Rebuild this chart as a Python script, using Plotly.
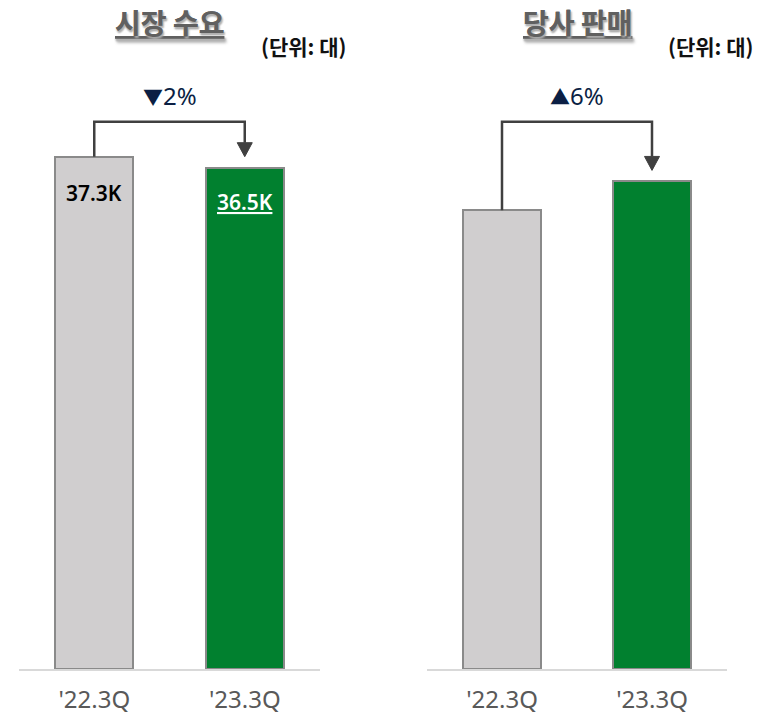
import plotly.graph_objects as go

# Quarter labels and unit volumes (thousands of units)
quarters = ["'22.3Q", "'23.3Q"]
market_demand = [37.3, 36.5]
company_sales = [33.4, 35.5]
market_labels = ["37.3K", "36.5K"]

panel_titles = ["시장 수요", "당사 판매"]
unit_text = "(단위: 대)"

bar_fill = ["#d0cecf", "#01802f"]
bar_edge = "#8a8a8a"
bracket_color = "#404040"
W, H = 773, 715
Y_MAX = 48.7
BASE_PX = 671

fig = go.Figure()

panels = [
    dict(vals=market_demand, xa="x", ya="y", dom=[19 / W, 320 / W], unit_x=1.39),
    dict(vals=company_sales, xa="x2", ya="y2", dom=[427 / W, 727 / W], unit_x=1.39),
]

for i, p in enumerate(panels):
    fig.add_trace(go.Bar(
        x=[0, 1], y=p["vals"], width=0.52,
        marker=dict(color=bar_fill, line=dict(color=bar_edge, width=2)),
        xaxis=p["xa"], yaxis=p["ya"], hoverinfo="skip", showlegend=False,
    ))

layout_axes = {}
for i, p in enumerate(panels):
    sfx = "" if i == 0 else "2"
    layout_axes["xaxis" + sfx] = dict(
        domain=p["dom"], range=[-0.5, 1.5], tickvals=[0, 1], ticktext=quarters,
        showline=True, linecolor="#d9d9d9", linewidth=2, showgrid=False,
        zeroline=False, ticks="", ticklabelstandoff=8,
        tickfont=dict(family="Noto Sans", size=24, color="#595959"),
        anchor="y" + sfx, fixedrange=True,
    )
    layout_axes["yaxis" + sfx] = dict(
        domain=[1 - BASE_PX / H, 1], range=[0, Y_MAX], visible=False,
        anchor="x" + sfx, fixedrange=True,
    )

fig.update_layout(
    width=W, height=H, margin=dict(l=0, r=0, t=0, b=0),
    paper_bgcolor="white", plot_bgcolor="white", bargap=0,
    **layout_axes,
)

px_per_unit = BASE_PX / Y_MAX
bracket_top = (BASE_PX - 122) / px_per_unit
annotations = []
shapes = []

for i, p in enumerate(panels):
    sfx = "" if i == 0 else "2"
    v0, v1 = p["vals"]
    tip = v1 + 11 / px_per_unit
    head = tip + 14 / px_per_unit
    hw = 0.05
    # elbow connector between the two bars
    shapes.append(dict(
        type="path", xref="x" + sfx, yref="y" + sfx,
        path=f"M 0 {v0} L 0 {bracket_top} L 1 {bracket_top} L 1 {head}",
        line=dict(color=bracket_color, width=2.5),
    ))
    shapes.append(dict(
        type="path", xref="x" + sfx, yref="y" + sfx,
        path=f"M {1 - hw} {head} L {1 + hw} {head} L 1 {tip} Z",
        fillcolor=bracket_color, line=dict(color=bracket_color, width=1),
    ))
    change = (v1 / v0 - 1) * 100
    sym = "▲" if change >= 0 else "▼"
    annotations.append(dict(
        xref="x" + sfx, yref="paper", x=0.5, y=1 - 96 / H,
        xanchor="center", yanchor="middle",
        text=f"<span style='font-family:Noto Sans CJK KR;font-size:20px'>{sym}</span>{abs(change):.0f}%",
        showarrow=False,
        font=dict(family="Noto Sans", size=24, color="#0b1f44"),
    ))
    # panel title and unit note
    annotations.append(dict(
        xref="x" + sfx, yref="paper", x=0.5, y=1 - 22 / H,
        xanchor="center", yanchor="middle",
        text=f"<u><b>{panel_titles[i]}</b></u>", showarrow=False,
        font=dict(family="Noto Sans CJK KR", size=28, color="#606060",
                  shadow="1px 2px 2px #b0b0b0"),
    ))
    annotations.append(dict(
        xref="x" + sfx, yref="paper", x=p["unit_x"], y=1 - 46 / H,
        xanchor="center", yanchor="middle",
        text=f"<b>{unit_text}</b>", showarrow=False,
        font=dict(family="Noto Sans CJK KR", size=21, color="#111111"),
    ))

# value labels inside the market demand bars
label_colors = ["#000000", "#ffffff"]
for j, (v, lab) in enumerate(zip(market_demand, market_labels)):
    txt = lab if j == 0 else f"<u>{lab}</u>"
    annotations.append(dict(
        xref="x", yref="y", x=j, y=v, yshift=-36 + (j * 2),
        text=txt, showarrow=False,
        font=dict(family="Noto Sans", size=21, weight=600, color=label_colors[j]),
    ))

fig.update_layout(annotations=annotations, shapes=shapes)
fig.write_html("out.html")
